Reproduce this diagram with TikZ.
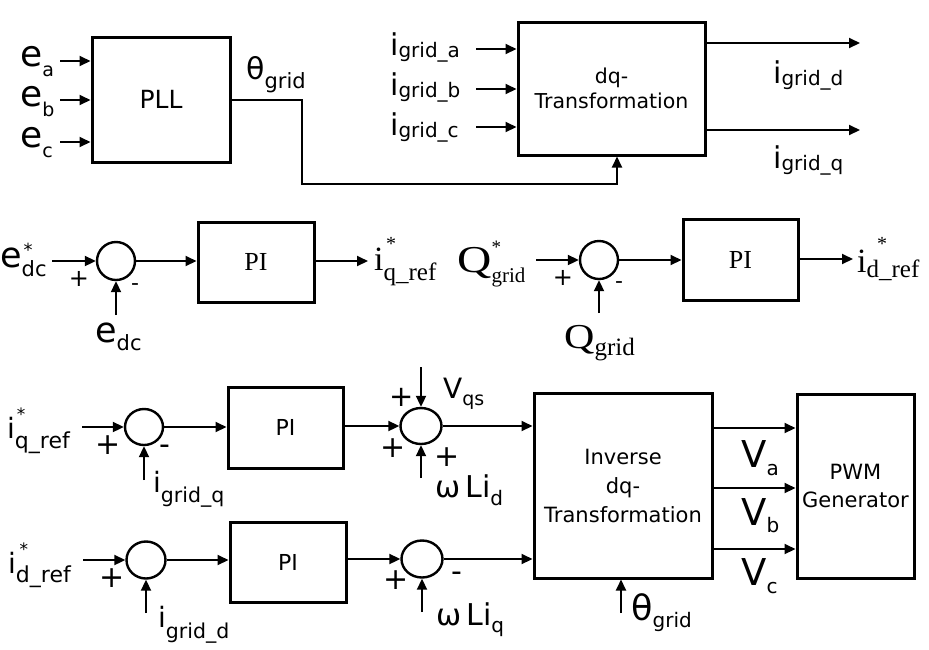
\documentclass[tikz,border=0pt]{standalone}
\usepackage{fontspec}
\usepackage{graphicx}
\setmainfont{DejaVu Sans}
\newfontfamily\serf{Liberation Serif}
\usetikzlibrary{arrows.meta,calc,shapes.geometric}
\newcommand{\fs}[1]{\fontsize{#1}{#1}\selectfont}
\newcommand{\ls}[5]{{\fs{#1}#2}\raisebox{-#5pt}{\fs{#3}#4}}
\begin{document}
\begin{tikzpicture}[x=1pt,y=-1pt,
  blk/.style={draw,line width=3pt,inner sep=0pt,align=center},
  sumc/.style={draw,ellipse,line width=2.4pt,inner sep=0pt},
  arr/.style={line width=2pt,-{Triangle[length=11pt,width=10pt]}},
  lb/.style={inner sep=0pt,anchor=base west},
  sg/.style={inner sep=0pt,anchor=center},
  st/.style={inner sep=0pt,anchor=center}]
\useasboundingbox (0,0) rectangle (929,649);

% ---------- blocks ----------
\node[blk,minimum width=138pt,minimum height=125pt,font=\fs{25}] (pll) at (161,99.5) {PLL};
\node[blk,minimum width=187pt,minimum height=133pt,font=\fontsize{20.5}{25}\selectfont] (dq) at (611.5,88.5) {dq-\\Transformation};
\node[blk,minimum width=116pt,minimum height=80pt,font=\serf\fs{26}] (pi1) at (256,262) {PI};
\node[blk,minimum width=115pt,minimum height=81pt,font=\serf\fs{26}] (pi2) at (740.5,259.5) {PI};
\node[blk,minimum width=115pt,minimum height=81pt,font=\fs{22}] (pi3) at (285.5,427.5) {PI};
\node[blk,minimum width=116pt,minimum height=80pt,font=\fs{22}] (pi4) at (288,562) {PI};
\node[blk,minimum width=178pt,minimum height=185pt,font=\fontsize{21}{29}\selectfont] (inv) at (623,485.5) {Inverse\\dq-\\Transformation};
\node[blk,minimum width=117pt,minimum height=184pt,font=\fontsize{21}{28}\selectfont] (pwm) at (855.5,486) {PWM\\Generator};

% ---------- summing junctions ----------
\node[sumc,minimum width=38pt,minimum height=38pt] (s1) at (116,261) {};
\node[sumc,minimum width=38pt,minimum height=38pt] (s2) at (599,260) {};
\node[sumc,minimum width=38pt,minimum height=36pt] (s3) at (144,427) {};
\node[sumc,minimum width=41pt,minimum height=36pt] (s4) at (421,426) {};
\node[sumc,minimum width=39pt,minimum height=37pt] (s5) at (146,560) {};
\node[sumc,minimum width=41pt,minimum height=37pt] (s6) at (422,559) {};

% ---------- free ends ----------
\coordinate (ia) at (60,61);
\coordinate (ib) at (60,100);
\coordinate (ic) at (60,142);
\coordinate (t1) at (302,184);
\coordinate (t2) at (617,184);
\coordinate (ga) at (476,49);
\coordinate (gb) at (476,89);
\coordinate (gc) at (476,127);
\coordinate (gd) at (860,43);
\coordinate (gq) at (860,130);
\coordinate (m1) at (52,261);
\coordinate (m2) at (116,315);
\coordinate (o1) at (368,261);
\coordinate (m3) at (536,260);
\coordinate (m4) at (599,313);
\coordinate (o2) at (853,259);
\coordinate (b1) at (82,427);
\coordinate (b2) at (144,480);
\coordinate (b3) at (421,367);
\coordinate (b4) at (421,478);
\coordinate (b5) at (83,560);
\coordinate (b6) at (146,613);
\coordinate (b7) at (422,612);
\coordinate (b8) at (621,613);
\coordinate (ya) at (750,428);
\coordinate (yb) at (750,488);
\coordinate (yc) at (750,549);

% ---------- connectors ----------
\draw[arr] (ia) -- (ia -| pll.west);
\draw[arr] (ib) -- (ib -| pll.west);
\draw[arr] (ic) -- (ic -| pll.west);
\draw[arr] (pll.east) -| (t1) -- (t2) -- (t2 |- dq.south);
\draw[arr] (ga) -- (ga -| dq.west);
\draw[arr] (gb) -- (gb -| dq.west);
\draw[arr] (gc) -- (gc -| dq.west);
\draw[arr] (gd -| dq.east) -- (gd);
\draw[arr] (gq -| dq.east) -- (gq);

\draw[arr] (m1) -- (s1);
\draw[arr] (m2) -- (s1);
\draw[arr] (s1.east) -- (s1.east -| pi1.west);
\draw[arr] (o1 -| pi1.east) -- (o1);
\draw[arr] (m3) -- (s2);
\draw[arr] (m4) -- (s2);
\draw[arr] (s2.east) -- (s2.east -| pi2.west);
\draw[arr] (o2 -| pi2.east) -- (o2);

\draw[arr] (b1) -- (s3);
\draw[arr] (b2) -- (s3);
\draw[arr] (s3.east) -- (s3.east -| pi3.west);
\draw[arr] (s4.west -| pi3.east) -- (s4.west);
\draw[arr] (b3) -- (s4);
\draw[arr] (b4) -- (s4);
\draw[arr] (s4.east) -- (s4.east -| inv.west);

\draw[arr] (b5) -- (s5);
\draw[arr] (b6) -- (s5);
\draw[arr] (s5.east) -- (s5.east -| pi4.west);
\draw[arr] (s6.west -| pi4.east) -- (s6.west);
\draw[arr] (b7) -- (s6);
\draw[arr] (s6.east) -- (s6.east -| inv.west);
\draw[arr] (b8) -- (b8 |- inv.south);

\draw[arr] (ya -| inv.east) -- (ya -| pwm.west);
\draw[arr] (yb -| inv.east) -- (yb -| pwm.west);
\draw[arr] (yc -| inv.east) -- (yc -| pwm.west);

% ---------- labels: top ----------
\node[lb] (lea) at (20,66) {\ls{36}{e}{19}{a}{10}};
\node[lb] (leb) at (20,106) {\ls{36}{e}{19}{b}{10}};
\node[lb] (lec) at (20,147) {\ls{36}{e}{19}{c}{10}};
\node[lb] (lth) at (246,79) {\ls{30}{θ}{21}{grid}{9}};
\node[lb] (lga) at (390,55) {\ls{30}{i}{20}{grid\_a}{2}};
\node[lb] (lgb) at (390,95) {\ls{30}{i}{20}{grid\_b}{2}};
\node[lb] (lgc) at (390,135) {\ls{30}{i}{20}{grid\_c}{2}};
\node[lb] (lgd) at (773,83) {\ls{30}{i}{20}{grid\_d}{2}};
\node[lb] (lgq) at (773,168) {\ls{30}{i}{20}{grid\_q}{2}};

% ---------- labels: middle ----------
\node[lb] (ledcs) at (0,267) {\ls{35}{e}{21}{dc}{9}};
\node[st,font=\fs{18}] (sedc) at (28,250) {*};
\node[lb] (ledc) at (95,342) {\ls{35}{e}{21}{dc}{8}};
\node[lb,font=\serf] (liqr) at (374,270) {\ls{34}{i}{25}{q\_ref}{10}};
\node[st,font=\serf\fs{20}] (siqr) at (391,244) {*};
\node[lb,font=\serf] (lqs) at (457,272) {\scalebox{1.25}[1]{\fs{38}Q}\rlap{\raisebox{19pt}{\fs{19}*}}\raisebox{-10pt}{\fs{21}grid}};
\node[lb,font=\serf] (lq) at (564,348) {\scalebox{1.2}[1]{\fs{35}Q}\raisebox{-7pt}{\fs{25}grid}};
\node[lb,font=\serf] (lidr) at (857,272) {\ls{34}{i}{25}{d\_ref}{5}};
\node[st,font=\serf\fs{20}] (sidr) at (882,244) {*};

% ---------- labels: bottom ----------
\node[lb] (bqr) at (7,438) {\ls{28}{i}{22}{q\_ref}{10}};
\node[st,font=\fs{17}] (sbqr) at (21,414) {*};
\node[lb] (bgq) at (153,492) {\ls{28}{i}{20.5}{grid\_q}{10}};
\node[lb] (bdr) at (8,573) {\ls{28}{i}{22}{d\_ref}{9}};
\node[st,font=\fs{17}] (sbdr) at (24,549) {*};
\node[lb] (bgd) at (158,627) {\ls{28}{i}{20.5}{grid\_d}{11}};
\node[lb] (lvqs) at (443,398) {\ls{28}{V}{19}{qs}{7}};
\node[lb] (lwd) at (435,497) {\ls{30}{ω\,Li}{20}{d}{8}};
\node[lb] (lwq) at (436,625) {\ls{30}{ω\,Li}{20}{q}{7}};
\node[lb] (lth2) at (631,620) {\ls{35}{θ}{20}{grid}{7}};
\node[lb] (lva) at (741,467) {\ls{37}{V}{20}{a}{8}};
\node[lb] (lvb) at (741,525) {\ls{37}{V}{20}{b}{7}};
\node[lb] (lvc) at (741,585) {\ls{37}{V}{20}{c}{8}};

% ---------- signs ----------
\node[sg,font=\fs{24}] (p1) at (79,279) {+};
\node[sg,font=\fs{22}] (n1) at (135,287) {-};
\node[sg,font=\fs{24}] (p2) at (563,278) {+};
\node[sg,font=\fs{22}] (n2) at (619,285) {-};
\node[sg,font=\fs{30}] (p3) at (108,445) {+};
\node[sg,font=\fs{30}] (n3) at (165,450) {-};
\node[sg,font=\fs{29}] (p4) at (402,397) {+};
\node[sg,font=\fs{30}] (p5) at (393,448) {+};
\node[sg,font=\fs{30}] (p6) at (447,457) {+};
\node[sg,font=\fs{30}] (p7) at (112,578) {+};
\node[sg,font=\fs{30}] (p8) at (396,580) {+};
\node[sg,font=\fs{30}] (n8) at (457,577) {-};
\end{tikzpicture}
\end{document}
